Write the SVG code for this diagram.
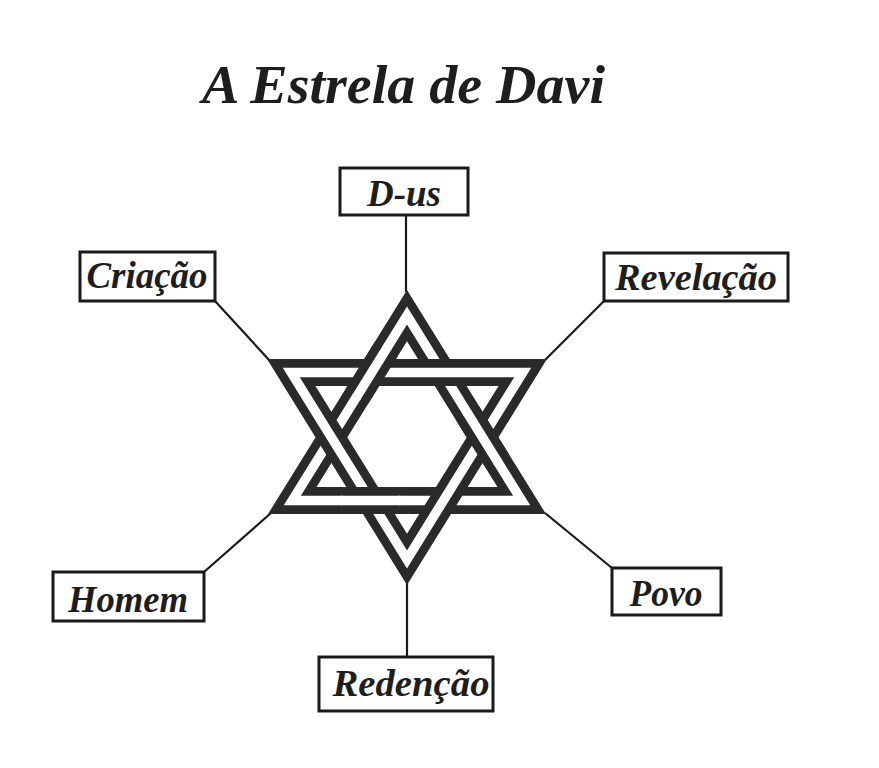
<svg xmlns="http://www.w3.org/2000/svg" width="879" height="768" viewBox="0 0 879 768">
<style>
.box{fill:#fff;stroke:#1a1a1a;stroke-width:3}
.lbl{font-family:"Liberation Serif","Times New Roman",serif;font-weight:bold;font-style:italic;font-size:38px;fill:#1e1e1e;text-anchor:middle}
.ttl{font-family:"Liberation Serif","Times New Roman",serif;font-weight:bold;font-style:italic;font-size:55px;fill:#1e1e1e}
.con{stroke:#1a1a1a;stroke-width:2.2;fill:none}
.bk{fill:none;stroke:#2a2a2a;stroke-width:27;stroke-linejoin:miter;stroke-miterlimit:6}
.wh{fill:none;stroke:#fff;stroke-width:9.5;stroke-linejoin:miter;stroke-miterlimit:6}
.bks{fill:none;stroke:#2a2a2a;stroke-width:27;stroke-linecap:butt}
.whs{fill:none;stroke:#fff;stroke-width:9.5;stroke-linecap:butt}
</style>
<rect width="879" height="768" fill="#fff"/>
<text class="ttl" x="202" y="103" textLength="403" lengthAdjust="spacingAndGlyphs">A Estrela de Davi</text>
<g id="connectors">
<line class="con" x1="406" y1="215" x2="406" y2="292"/>
<line class="con" x1="215" y1="301" x2="270" y2="361"/>
<line class="con" x1="604" y1="301" x2="545" y2="360"/>
<line class="con" x1="204" y1="572" x2="271" y2="513"/>
<line class="con" x1="612" y1="568" x2="545" y2="513"/>
<line class="con" x1="407" y1="657" x2="407" y2="583"/>
</g>
<g id="star">
<path class="bk" d="M407,315.6 L292.3,500.5 L521.7,500.5 Z"/>
<path class="wh" d="M407,315.6 L292.3,500.5 L521.7,500.5 Z"/>
<path class="bk" d="M291.25,372.5 L522.75,372.5 L407,559.4 Z"/>
<path class="wh" d="M291.25,372.5 L522.75,372.5 L407,559.4 Z"/>
<path class="bks" d="M386.5,348.7 L356.9,396.3 M467.8,413.6 L497.4,461.2 M342.5,500.5 L398.5,500.5"/>
<path class="whs" d="M387.5,347.0 L355.9,397.9 M466.8,411.9 L498.4,462.9 M340.5,500.5 L400.5,500.5"/>
</g>
<g id="n-dus"><rect class="box" x="340" y="168" width="128" height="47"/><text class="lbl" x="404" y="206" textLength="74" lengthAdjust="spacingAndGlyphs">D-us</text></g>
<g id="n-criacao"><rect class="box" x="80" y="252" width="135" height="49"/><text class="lbl" x="147" y="288" textLength="121" lengthAdjust="spacingAndGlyphs">Criação</text></g>
<g id="n-revelacao"><rect class="box" x="604" y="253" width="184" height="48"/><text class="lbl" x="696" y="290" textLength="162" lengthAdjust="spacingAndGlyphs">Revelação</text></g>
<g id="n-homem"><rect class="box" x="53" y="572" width="151" height="49"/><text class="lbl" x="128" y="612" textLength="120" lengthAdjust="spacingAndGlyphs">Homem</text></g>
<g id="n-povo"><rect class="box" x="612" y="568" width="109" height="47"/><text class="lbl" x="666" y="606" textLength="73" lengthAdjust="spacingAndGlyphs">Povo</text></g>
<g id="n-redencao"><rect class="box" x="319" y="657" width="174" height="54"/><text class="lbl" x="411" y="696" textLength="157" lengthAdjust="spacingAndGlyphs">Redenção</text></g>
</svg>
